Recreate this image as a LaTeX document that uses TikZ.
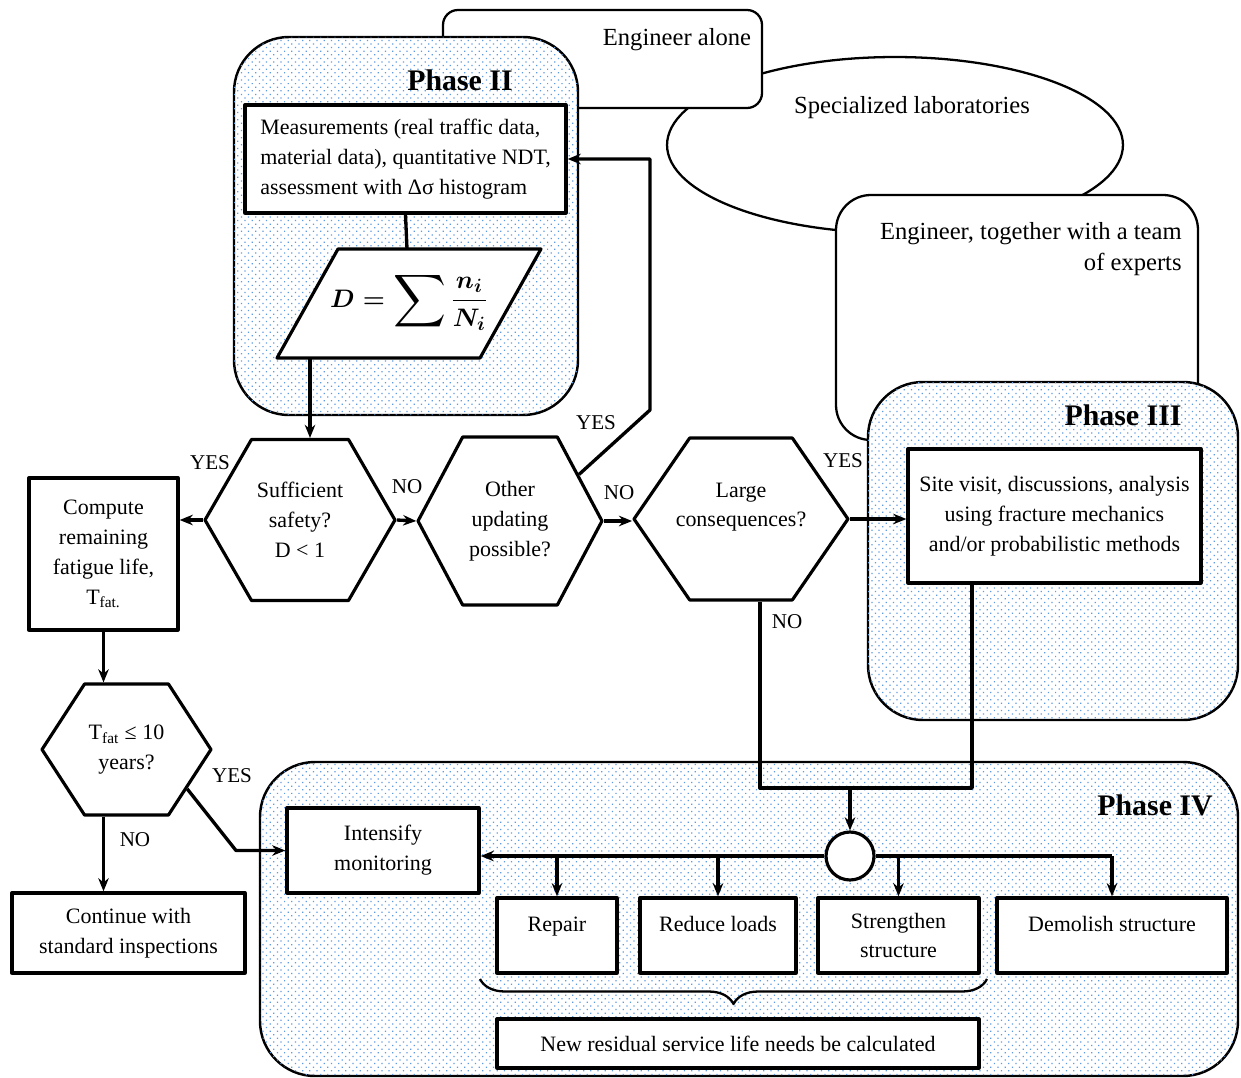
\documentclass[tikz,border=0pt]{standalone}
\usepackage{amsmath}
\usepackage{fontspec}
\setmainfont{Liberation Serif}
\usetikzlibrary{arrows.meta,shapes.symbols,patterns.meta,decorations.pathreplacing}
\definecolor{dotblue}{RGB}{95,155,225}
\begin{document}
\begin{tikzpicture}[x=0.02cm,y=-0.02cm,line join=round,
  >={Stealth[length=7.5pt,width=6pt]},
  txt/.style={font=\fontsize{12.5}{17}\selectfont,align=center},
  big/.style={font=\fontsize{14}{18}\selectfont,inner sep=0pt},
  head/.style={font=\fontsize{17}{20}\selectfont\bfseries,inner sep=0pt},
  lbl/.style={font=\fontsize{12}{14}\selectfont,inner sep=0pt},
  phase/.style={draw,line width=1.4pt,rounded corners=1.1cm,fill=white,
    postaction={pattern={Dots[radius=0.5pt,distance=2.9pt,angle=45]},pattern color=dotblue}},
  role/.style={draw,line width=1.3pt,fill=white},
  proc/.style={txt,draw,line width=1.9pt,fill=white,inner sep=0pt},
  hexa/.style={txt,signal,signal to=east and west,draw,line width=1.8pt,fill=white,inner sep=0pt},
  link/.style={line width=1.9pt}]
\useasboundingbox (0,0) rectangle (1241,1078);
% who does the work
\draw[role] (895,145) ellipse [x radius=4.56cm,y radius=1.76cm];
\draw[role,rounded corners=0.3cm] (443,10) rectangle (762,108);
\draw[role,rounded corners=0.7cm] (836,195) rectangle (1198,440);
\node[big] (alone) at (677,40) {Engineer alone};
\node[big] (labs) at (912,108) {Specialized laboratories};
\node[big,align=right,anchor=east] (team) at (1182,249) {Engineer, together with a team\\of experts};
% phases
\draw[phase] (234,37) rectangle (578,415);
\draw[phase] (868,382) rectangle (1238,720);
\draw[phase] (260,762) rectangle (1238,1076);
\node[head] (ph2) at (460,80) {Phase II};
\node[head] (ph3) at (1123,415) {Phase III};
\node[head] (ph4) at (1155,805) {Phase IV};
% phase II
\node[proc,minimum width=6.42cm,minimum height=2.16cm,align=left] (meas) at (405.5,159) {Measurements (real traffic data,\\material data), quantitative NDT,\\assessment with Δσ histogram};
\coordinate (dtop) at (407,249);
\coordinate (dbot) at (310,358);
\draw[line width=1.8pt,fill=white] (277,358) -- (338,249) -- (541,249) -- (480,358) -- cycle;
\node[font=\fontsize{15}{17}\selectfont,inner sep=0pt] (dmg) at (409,301) {{\boldmath $\displaystyle D=\mathop{\vcenter{\hbox{\scalebox{1.45}{$\displaystyle\sum$}}}}\frac{n_i}{N_i}$}};
% decisions
\node[hexa,minimum width=3.8cm,minimum height=3.22cm,signal pointer angle=120] (safe) at (300,520) {Sufficient\\safety?\\D < 1};
\node[hexa,minimum width=3.68cm,minimum height=3.36cm,signal pointer angle=124] (upd) at (510,521) {Other\\updating\\possible?};
\node[hexa,minimum width=4.28cm,minimum height=3.24cm,signal pointer angle=111,inner xsep=-0.28cm] (cons) at (741,519) {Large\\consequences?\\[-6pt]\strut};
\node[hexa,minimum width=3.38cm,minimum height=2.62cm,signal pointer angle=114] (tfat) at (126.5,749.5) {T\textsubscript{fat} ≤ 10\\years?};
% left branch
\node[proc,minimum width=2.98cm,minimum height=3.04cm] (life) at (103.5,554) {Compute\\remaining\\fatigue life,\\T\textsubscript{fat.}};
\node[proc,minimum width=4.66cm,minimum height=1.6cm] (std) at (128.5,933) {Continue with\\standard inspections};
% phase III
\node[proc,minimum width=5.86cm,minimum height=2.68cm] (site) at (1054.5,516) {Site visit, discussions, analysis\\using fracture mechanics\\and/or probabilistic methods};
% phase IV
\node[proc,minimum width=3.84cm,minimum height=1.7cm] (mon) at (383,850.5) {Intensify\\monitoring};
\node[circle,draw,line width=1.8pt,fill=white,minimum size=0.96cm,inner sep=0pt] (hub) at (850,856) {};
\node[proc,minimum width=2.4cm,minimum height=1.5cm] (rep) at (557,935.5) {Repair\\[-9pt]\strut};
\node[proc,minimum width=3.12cm,minimum height=1.5cm] (load) at (718,935.5) {Reduce loads\\[-9pt]\strut};
\node[proc,minimum width=3.22cm,minimum height=1.5cm] (stren) at (898.5,935.5) {Strengthen\\structure};
\node[proc,minimum width=4.6cm,minimum height=1.5cm] (dem) at (1112,935.5) {Demolish structure\\[-9pt]\strut};
\node[proc,minimum width=9.64cm,minimum height=0.98cm] (res) at (738,1043.5) {New residual service life needs be calculated};
\coordinate (bra) at (480,979);
\coordinate (brb) at (987,979);
\draw[line width=1.3pt,decorate,decoration={brace,mirror,amplitude=0.5cm}] (bra) -- (brb);
% connectors
\draw[link] (meas.south) -- (dtop);
\draw[link,->] (dbot) -- (dbot |- safe.north);
\draw[link,->] (safe.west) -- (safe.west -| life.east);
\draw[link,->] (safe.east) -- (upd.west);
\draw[link,->] (upd.east) -- (upd.east -| cons.west);
\coordinate (up) at (650,410);
\draw[link,->] (upd.34) -- (up) |- (meas.east);
\draw[link,->] (cons.east) -- (cons.east -| site.west);
\coordinate (mrg) at (850,788);
\draw[link] ([xshift=0.38cm]cons.south) |- (mrg) -| ([xshift=-1.65cm]site.south);
\draw[link,->] (mrg) -- (hub.north);
\draw[link,->] (life.south) -- (life.south |- tfat.north);
\draw[link,->] (life.south |- tfat.south) -- (life.south |- std.north);
\coordinate (kink) at (236,850.5);
\draw[link,->] (tfat.-33) -- (kink) -- (mon.west);
\draw[link,->] (hub.west) -- (hub.west -| mon.east);
\foreach \b in {rep,load} \draw[link,->] (hub.west -| \b.north) -- (\b.north);
\draw[link] (hub.east) -- (hub.east -| dem.north);
\foreach \b in {stren,dem} \draw[link,->] (hub.east -| \b.north) -- (\b.north);
% answers
\node[lbl] (y1) at (210,463) {YES};
\node[lbl] (n1) at (407,487) {NO};
\node[lbl] (y2) at (596,423) {YES};
\node[lbl] (n2) at (619,493) {NO};
\node[lbl] (y3) at (843,461) {YES};
\node[lbl] (n3) at (787,622) {NO};
\node[lbl] (y4) at (232,776) {YES};
\node[lbl] (n4) at (135,840) {NO};
\end{tikzpicture}
\end{document}
